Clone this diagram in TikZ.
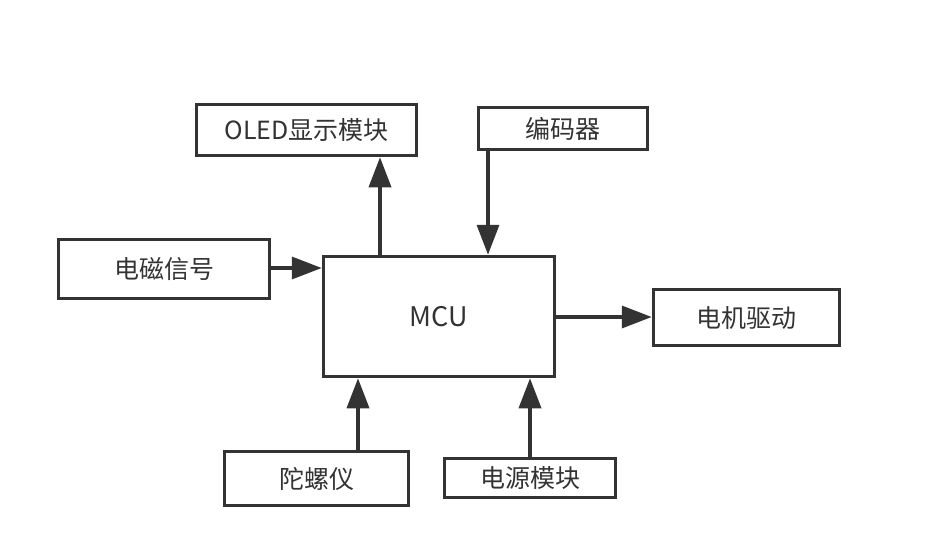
\documentclass[tikz,border=0pt]{standalone}
\usepackage{fontspec}
\setmainfont{Noto Sans CJK SC}
\usetikzlibrary{arrows.meta}
\definecolor{ink}{HTML}{333333}
\tikzset{
  box/.style={draw=ink, line width=3.5pt, rectangle, inner sep=0pt, text=ink, font=\fontsize{25}{30}\selectfont},
  link/.style={draw=ink, line width=3.5pt, -{Triangle[length=30pt,width=22pt]}}
}
\begin{document}
\begin{tikzpicture}[x=1pt,y=-1pt]
\useasboundingbox[fill=white] (0,0) rectangle (926,541);
\node[box, minimum width=220pt, minimum height=51pt] (oled) at (306.5,130) {OLED显示模块};
\node[box, minimum width=169pt, minimum height=42pt] (enc) at (563,128.5) {编码器};
\node[box, minimum width=211pt, minimum height=59pt] (em) at (164,269) {电磁信号};
\node[box, minimum width=231pt, minimum height=120pt, font=\fontsize{27}{32}\selectfont] (mcu) at (439,316.5) {MCU};
\node[box, minimum width=186pt, minimum height=56pt] (motor) at (746.5,317.5) {电机驱动};
\node[box, minimum width=184pt, minimum height=54pt] (gyro) at (316.5,478.5) {陀螺仪};
\node[box, minimum width=171pt, minimum height=39pt] (power) at (530,478) {电源模块};
\draw[link] (mcu.north -| 380,0) -- (oled.south -| 380,0);
\draw[link] (enc.south -| 488,0) -- (mcu.north -| 488,0);
\draw[link] (em.east |- 0,268) -- (mcu.west |- 0,268);
\draw[link] (mcu.east |- 0,317) -- (motor.west |- 0,317);
\draw[link] (gyro.north -| 358,0) -- (mcu.south -| 358,0);
\draw[link] (power.north -| 530,0) -- (mcu.south -| 530,0);
\end{tikzpicture}
\end{document}
